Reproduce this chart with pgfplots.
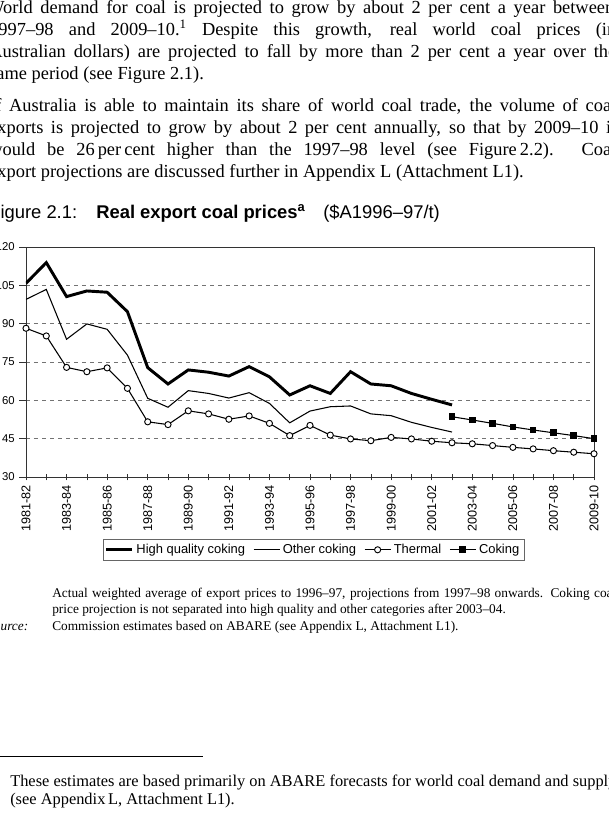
\documentclass[border=0pt]{standalone}
\usepackage{fontspec}
\setmainfont{Liberation Serif}
\newfontfamily\arial{Liberation Sans}
\usepackage{pgfplots}
\pgfplotsset{compat=1.18}
\newlength\px
\setlength\px{0.75pt}

% price series, $A 1996-97 per tonne; x = year index from 1981-82
\pgfplotstableread{
x  y
0  105.8
1  113.9
2  100.6
3  102.8
4  102.3
5  94.7
6  72.8
7  66.4
8  71.9
9  71.0
10 69.5
11 73.2
12 69.2
13 62.1
14 65.7
15 62.7
16 71.2
17 66.4
18 65.7
19 62.7
20 60.4
21 58.2
}\hqcoking
\pgfplotstableread{
x  y
0  99.5
1  103.4
2  83.9
3  89.9
4  87.8
5  77.7
6  60.8
7  57.3
8  63.8
9  62.7
10 60.9
11 63.0
12 58.8
13 51.2
14 55.8
15 57.5
16 57.8
17 54.7
18 54.0
19 51.4
20 49.4
21 47.6
}\othercoking
\pgfplotstableread{
x  y
0  88.2
1  85.2
2  72.9
3  71.2
4  72.7
5  64.7
6  51.6
7  50.5
8  55.9
9  54.7
10 52.6
11 53.9
12 51.0
13 46.2
14 50.2
15 46.4
16 44.9
17 44.2
18 45.5
19 44.9
20 44.0
21 43.4
22 43.0
23 42.3
24 41.6
25 41.0
26 40.3
27 39.7
28 39.1
}\thermal
\pgfplotstableread{
x  y
21 53.6
22 52.3
23 51.0
24 49.6
25 48.4
26 47.3
27 46.2
28 45.0
}\coking

\newcommand\jline[3]{\node[anchor=base west,inner sep=0pt] at (#1,#2) {\makebox[627\px][s]{#3}};}
\newcommand\pline[3]{\node[anchor=base west,inner sep=0pt] at (#1,#2) {#3};}

\begin{document}
\begin{tikzpicture}
\path[use as bounding box] (0,0) rectangle (456pt,-621pt);
\clip (0,0) rectangle (456pt,-621pt);
\fill[white] (0,0) rectangle (456pt,-621pt);

\begin{scope}[x=0.75pt,y=-0.75pt]
  % body text
  \begin{scope}[every node/.style={font=\fontsize{13.8}{16.5}\selectfont}]
    \jline{-13}{13}{World demand for coal is projected to grow by about 2 per cent a year between}
    \jline{-11}{35}{1997–98 and 2009–10.\textsuperscript{1} Despite this growth, real world coal prices (in}
    \jline{-11}{57}{Australian dollars) are projected to fall by more than 2 per cent a year over the}
    \pline{-11}{79}{same period (see Figure 2.1).}
    \jline{-11}{111}{If Australia is able to maintain its share of world coal trade, the volume of coal}
    \jline{-11}{133}{exports is projected to grow by about 2 per cent annually, so that by 2009–10 it}
    \jline{-11}{155}{would be 26\,per\,cent higher than the 1997–98 level (see Figure\,2.2). Coal}
    \pline{-11}{177}{export projections are discussed further in Appendix L (Attachment L1).}
  \end{scope}
  % figure title
  \begin{scope}[every node/.style={font=\arial\fontsize{13.8}{16.5}\selectfont}]
    \pline{-11}{218}{Figure 2.1:}
    \pline{96}{218}{\textbf{Real export coal prices\textsuperscript{a}}}
    \pline{323}{218}{(\$A1996–97/t)}
  \end{scope}
  % notes
  \begin{scope}[every node/.style={font=\fontsize{10}{12}\selectfont}]
    \node[anchor=base west,inner sep=0pt] at (52,597) {\makebox[564\px][s]{Actual weighted average of export prices to 1996–97, projections from 1997–98 onwards. Coking coal}};
    \pline{52}{613}{price projection is not separated into high quality and other categories after 2003–04.}
    \pline{-13}{630}{\textit{Source:}}
    \pline{52}{630}{Commission estimates based on ABARE (see Appendix L, Attachment L1).}
  \end{scope}
  % footnote
  \draw[line width=0.6pt] (-11,756) -- (203,756);
  \begin{scope}[every node/.style={font=\fontsize{12.3}{13.5}\selectfont}]
    \pline{10}{786}{These estimates are based primarily on ABARE forecasts for world coal demand and supply}
    \pline{10}{804}{(see Appendix\,L, Attachment L1).}
  \end{scope}
\end{scope}

\begin{axis}[
  at={(19.5pt,-357.75pt)}, anchor=south west,
  scale only axis, width=426pt, height=172.5pt,
  xmin=0, xmax=28, ymin=30, ymax=120,
  ytick={30,45,...,120},
  xtick={0,2,...,28},
  minor xtick={1,3,...,27},
  xticklabels={1981-82,1983-84,1985-86,1987-88,1989-90,1991-92,1993-94,1995-96,1997-98,1999-00,2001-02,2003-04,2005-06,2007-08,2009-10},
  xtick pos=bottom, ytick pos=left,
  xtick align=center, ytick align=outside,
  major tick length=5pt, minor tick length=5pt,
  every tick/.style={black!80, line width=0.5pt},
  axis line style={black!80, line width=0.6pt},
  ymajorgrids,
  major grid style={black!55, dash pattern=on 3pt off 3pt, line width=0.6pt},
  /pgf/number format/assume math mode=true,
  xticklabel style={font=\arial\fontsize{9.5}{11}\selectfont, rotate=90, anchor=east},
  yticklabel style={font=\arial\fontsize{8.5}{10}\selectfont},
  legend columns=4,
  legend style={at={(0.506,-0.27)}, anchor=north, draw=black!60, line width=0.5pt,
    font=\arial\fontsize{9.7}{11}\selectfont, inner sep=1.5pt,
    /tikz/every even column/.append style={column sep=4pt}},
  legend image code/.code={\draw[mark repeat=2,mark phase=2,#1] plot coordinates {(0pt,0pt) (9.75pt,0pt) (19.5pt,0pt)};},
]
\addplot[black, line width=2.2pt] table {\hqcoking};
\addlegendentry{High quality coking}
\addplot[black, line width=0.8pt] table {\othercoking};
\addlegendentry{Other coking}
\addplot[black, line width=0.8pt, mark=*, mark size=2.3pt, mark options={fill=white, line width=0.7pt}] table {\thermal};
\addlegendentry{Thermal}
\addplot[black, line width=0.8pt, mark=square*, mark size=2.1pt, mark options={fill=black}] table {\coking};
\addlegendentry{Coking}
\end{axis}
\end{tikzpicture}
\end{document}
